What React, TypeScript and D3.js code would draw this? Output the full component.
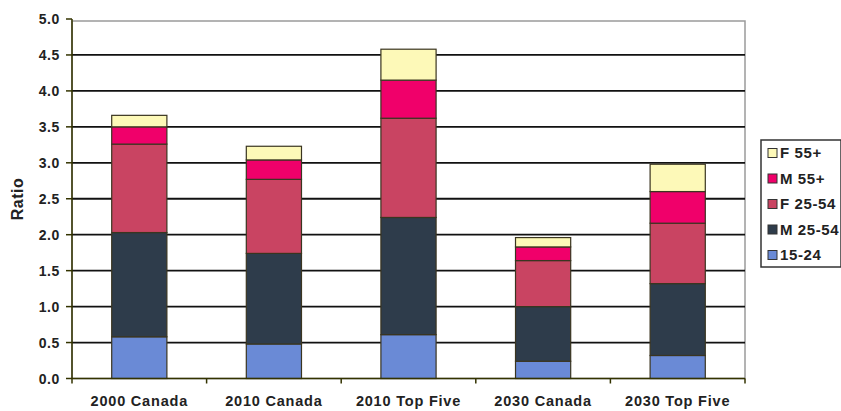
import React from "react";
import * as d3 from "d3";

const categories = ["2000 Canada", "2010 Canada", "2010 Top Five", "2030 Canada", "2030 Top Five"];
const seriesNames = ["15-24", "M 25-54", "F 25-54", "M 55+", "F 55+"];
const s1524 = [0.58, 0.48, 0.61, 0.24, 0.32];
const sM2554 = [1.45, 1.26, 1.63, 0.76, 1.0];
const sF2554 = [1.23, 1.03, 1.38, 0.64, 0.84];
const sM55 = [0.24, 0.27, 0.53, 0.19, 0.44];
const sF55 = [0.16, 0.19, 0.43, 0.13, 0.38];
const yTicks = [0, 0.5, 1, 1.5, 2, 2.5, 3, 3.5, 4, 4.5, 5];
const colors = ["#6a8ad6", "#2e3c4b", "#c94462", "#f0006a", "#fdf9b8"];

const W = 841;
const H = 411;
const X0 = 72;
const X1 = 745;
const Y0 = 378.5;
const Y1 = 19;
const FONT = "'Liberation Sans', Arial, sans-serif";

export default function App() {
  const seriesVals = [s1524, sM2554, sF2554, sM55, sF55];
  const rows = categories.map((c, i) => {
    const r: any = { cat: c };
    seriesNames.forEach((s, k) => (r[s] = seriesVals[k][i]));
    return r;
  });
  const stacked = d3.stack().keys(seriesNames)(rows);
  const x = d3.scaleBand().domain(categories).range([X0, X1]).paddingInner(0.59).paddingOuter(0.295);
  const y = d3.scaleLinear().domain([0, 5]).range([Y0, Y1]);
  const step = x.step();
  const legendOrder = [4, 3, 2, 1, 0];

  return (
    <svg width={W} height={H} style={{ position: "absolute", left: 0, top: 0, background: "#fff" }} fontFamily={FONT}>
      <rect x={0} y={0} width={W} height={H} fill="#fff" />
      {/* plot border (gray) */}
      <rect x={X0} y={y(5) + 2} width={X1 - X0} height={Y0 - y(5) - 2} fill="none" stroke="#9a9a9a" strokeWidth={1.5} />
      {/* gridlines */}
      {yTicks.filter((t) => t > 0 && t < 5).map((t) => (
        <line key={t} x1={X0} x2={X1} y1={y(t)} y2={y(t)} stroke="#111" strokeWidth={1.8} />
      ))}
      {/* bars */}
      {stacked.map((layer, k) => (
        <g key={layer.key}>
          {layer.map((d, i) => (
            <rect
              key={i}
              x={x(categories[i])!}
              y={y(d[1])}
              width={x.bandwidth()}
              height={y(d[0]) - y(d[1])}
              fill={colors[k]}
              stroke="#3a3520"
              strokeWidth={1.2}
            />
          ))}
        </g>
      ))}
      {/* y axis */}
      <line x1={X0} x2={X0} y1={y(5)} y2={Y0} stroke="#333300" strokeWidth={1.5} />
      {yTicks.map((t) => (
        <g key={t}>
          <line x1={X0 - 6} x2={X0} y1={y(t)} y2={y(t)} stroke="#333300" strokeWidth={1.5} />
          <text x={60} y={y(t)} dy="0.36em" textAnchor="end" fontSize={14} fontWeight="bold" fill="#222" letterSpacing={0.6}>
            {d3.format(".1f")(t)}
          </text>
        </g>
      ))}
      <text transform={`translate(23,199) rotate(-90)`} textAnchor="middle" fontSize={16} fontWeight="bold" fill="#222" letterSpacing={0.5}>
        Ratio
      </text>
      {/* x axis */}
      <line x1={X0} x2={X1} y1={Y0} y2={Y0} stroke="#333300" strokeWidth={1.5} />
      {d3.range(categories.length + 1).map((i) => (
        <line key={i} x1={X0 + i * step} x2={X0 + i * step} y1={Y0} y2={Y0 + 5} stroke="#333300" strokeWidth={1.5} />
      ))}
      {categories.map((c) => (
        <text key={c} x={x(c)! + x.bandwidth() / 2} y={406} textAnchor="middle" fontSize={14.5} fontWeight="bold" fill="#222" letterSpacing={0.8}>
          {c}
        </text>
      ))}
      {/* legend */}
      <rect x={761} y={140} width={80} height={127} fill="#fff" stroke="#333" strokeWidth={1.5} />
      {legendOrder.map((k, j) => (
        <g key={k} transform={`translate(768,${153 + j * 25.5})`}>
          <rect x={0} y={-4.5} width={9} height={9} fill={colors[k]} stroke="#333" strokeWidth={1} />
          <text x={12} y={0} dy="0.36em" fontSize={15} fontWeight="bold" fill="#222" letterSpacing={0.6}>
            {seriesNames[k]}
          </text>
        </g>
      ))}
    </svg>
  );
}
